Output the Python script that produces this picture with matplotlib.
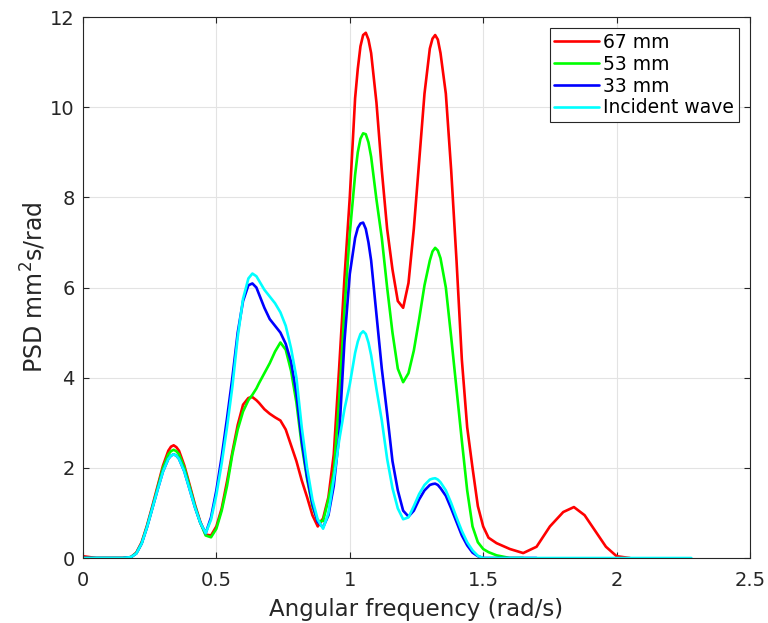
import matplotlib

matplotlib.use("Agg")
import matplotlib.pyplot as plt
import numpy as np

nan = np.nan

# angular frequency (rad/s), shared by all series
freq = [
    0.00, 0.05, 0.10, 0.15, 0.18, 0.20, 0.22, 0.24, 0.26, 0.28,
    0.30, 0.32, 0.33, 0.34, 0.35, 0.36, 0.38, 0.40, 0.42, 0.44,
    0.46, 0.48, 0.50, 0.52, 0.54, 0.56, 0.58, 0.60, 0.62, 0.635,
    0.65, 0.66, 0.68, 0.70, 0.72, 0.74, 0.76, 0.78, 0.80, 0.82,
    0.84, 0.86, 0.88, 0.90, 0.92, 0.94, 0.96, 0.98, 1.00, 1.02,
    1.03, 1.04, 1.05, 1.06, 1.07, 1.08, 1.10, 1.12, 1.14, 1.16,
    1.18, 1.20, 1.22, 1.24, 1.26, 1.28, 1.30, 1.31, 1.32, 1.33,
    1.34, 1.36, 1.38, 1.40, 1.42, 1.44, 1.46, 1.48, 1.50, 1.52,
    1.55, 1.60, 1.65, 1.70, 1.75, 1.80, 1.84, 1.88, 1.92, 1.96,
    2.00, 2.05, 2.28,
]

psd_67 = [
    0.04, 0.00, 0.00, 0.00, 0.02, 0.12, 0.35, 0.72, 1.15, 1.60,
    2.05, 2.38, 2.47, 2.50, 2.46, 2.38, 2.05, 1.62, 1.18, 0.80,
    0.52, 0.50, 0.70, 1.10, 1.70, 2.35, 2.95, 3.40, 3.55, 3.57,
    3.50, 3.44, 3.30, 3.20, 3.12, 3.05, 2.85, 2.50, 2.15, 1.72,
    1.35, 0.95, 0.70, 0.88, 1.35, 2.30, 4.20, 6.20, 8.00, 10.20,
    10.85, 11.35, 11.60, 11.65, 11.50, 11.20, 10.10, 8.60, 7.30, 6.40,
    5.70, 5.55, 6.10, 7.30, 8.80, 10.30, 11.30, 11.52, 11.60, 11.50,
    11.20, 10.30, 8.60, 6.60, 4.40, 2.90, 2.00, 1.15, 0.70, 0.45,
    0.33, 0.20, 0.11, 0.25, 0.70, 1.02, 1.13, 0.95, 0.60, 0.25,
    0.04, 0.00, nan,
]

psd_53 = [
    0.00, 0.00, 0.00, 0.00, 0.02, 0.11, 0.33, 0.70, 1.12, 1.56,
    2.00, 2.30, 2.37, 2.40, 2.37, 2.30, 2.00, 1.58, 1.15, 0.78,
    0.50, 0.46, 0.65, 1.05, 1.60, 2.30, 2.85, 3.25, 3.50, 3.62,
    3.76, 3.88, 4.10, 4.32, 4.58, 4.78, 4.62, 4.15, 3.45, 2.50,
    1.75, 1.15, 0.82, 0.82, 1.30, 1.90, 3.50, 5.50, 7.20, 8.50,
    9.00, 9.30, 9.42, 9.40, 9.22, 8.90, 7.95, 7.10, 6.00, 5.00,
    4.20, 3.90, 4.10, 4.60, 5.30, 6.05, 6.60, 6.80, 6.88, 6.82,
    6.65, 6.00, 4.90, 3.75, 2.60, 1.50, 0.70, 0.35, 0.20, 0.13,
    0.06, 0.00, 0.00, nan, nan, nan, nan, nan, nan, nan,
    nan, nan, nan,
]

psd_33 = [
    0.00, 0.00, 0.00, 0.00, 0.02, 0.10, 0.32, 0.68, 1.10, 1.52,
    1.92, 2.20, 2.27, 2.30, 2.27, 2.20, 1.92, 1.52, 1.12, 0.78,
    0.55, 0.90, 1.50, 2.25, 3.10, 4.00, 5.00, 5.70, 6.05, 6.09,
    6.00, 5.85, 5.55, 5.30, 5.15, 5.00, 4.75, 4.35, 3.65, 2.60,
    1.80, 1.20, 0.80, 0.68, 0.95, 1.60, 2.70, 4.80, 6.30, 7.10,
    7.32, 7.42, 7.44, 7.30, 7.00, 6.60, 5.40, 4.20, 3.20, 2.15,
    1.50, 1.05, 0.92, 1.05, 1.30, 1.50, 1.62, 1.64, 1.65, 1.62,
    1.55, 1.38, 1.10, 0.80, 0.50, 0.28, 0.12, 0.04, 0.00, 0.00,
    0.00, 0.00, 0.00, 0.00, nan, nan, nan, nan, nan, nan,
    nan, nan, nan,
]

psd_incident = [
    0.00, 0.00, 0.00, 0.00, 0.02, 0.10, 0.32, 0.68, 1.10, 1.52,
    1.92, 2.20, 2.27, 2.30, 2.27, 2.20, 1.92, 1.52, 1.12, 0.78,
    0.55, 0.85, 1.40, 2.10, 2.90, 3.80, 4.90, 5.75, 6.20, 6.31,
    6.25, 6.15, 5.95, 5.80, 5.65, 5.45, 5.15, 4.65, 4.00, 2.90,
    2.00, 1.30, 0.85, 0.65, 1.00, 1.75, 2.60, 3.30, 3.85, 4.55,
    4.80, 4.97, 5.03, 4.97, 4.78, 4.50, 3.75, 3.05, 2.20, 1.55,
    1.10, 0.86, 0.90, 1.15, 1.42, 1.62, 1.74, 1.76, 1.77, 1.74,
    1.68, 1.50, 1.22, 0.90, 0.60, 0.35, 0.17, 0.05, 0.00, 0.00,
    0.00, 0.00, 0.00, 0.00, 0.00, 0.00, 0.00, 0.00, 0.00, 0.00,
    0.00, 0.00, 0.00,
]

labels = ["67 mm", "53 mm", "33 mm", "Incident wave"]
colors = ["#ff0000", "#00ff00", "#0000ff", "#00ffff"]

plt.rcParams["font.family"] = ["DejaVu Sans"]
ink = "#262626"

fig = plt.figure(figsize=(7.68, 6.23), dpi=100)
ax = fig.add_axes([0.108, 0.1043, 0.8686, 0.8684])

for ys, lab, col in zip([psd_67, psd_53, psd_33, psd_incident], labels, colors):
    ax.plot(freq, ys, color=col, lw=1.9, label=lab,
            solid_joinstyle="round", solid_capstyle="round")

ax.set_xlim(0, 2.5)
ax.set_ylim(0, 12)
ax.set_xticks([0, 0.5, 1, 1.5, 2, 2.5])
ax.set_xticklabels(["0", "0.5", "1", "1.5", "2", "2.5"])
ax.set_yticks(range(0, 13, 2))
ax.grid(True, color="#e3e3e3", lw=0.8)
ax.set_axisbelow(True)
ax.tick_params(direction="in", top=True, right=True, labelsize=14,
               colors=ink, length=4, width=0.8)
ax.tick_params(axis="x", pad=9)
ax.tick_params(axis="y", pad=6)
for s in ax.spines.values():
    s.set_color(ink)
    s.set_linewidth(0.8)

ax.set_xlabel("Angular frequency (rad/s)", fontsize=16.5, color=ink, labelpad=6)
ax.set_ylabel("PSD mm$^2$s/rad", fontsize=17, color=ink, labelpad=1)

leg = ax.legend(loc="upper right", fontsize=13.5, handlelength=2.4,
                handletextpad=0.2, borderpad=0.25, labelspacing=0.15,
                fancybox=False, framealpha=1, borderaxespad=0.6)
leg.get_frame().set_edgecolor(ink)
leg.get_frame().set_linewidth(0.8)

fig.savefig("out.png", dpi=100)
